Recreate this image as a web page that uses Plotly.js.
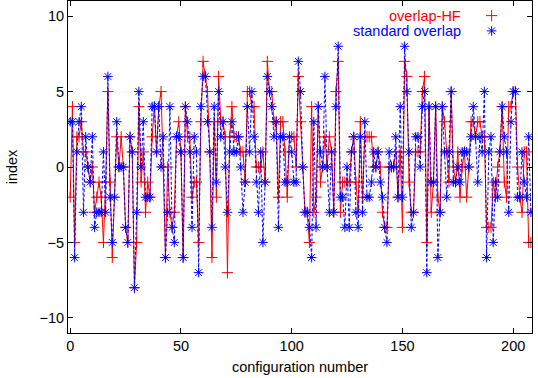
<!DOCTYPE html>
<html>
<head>
<meta charset="utf-8">
<script src="https://cdn.plot.ly/plotly-3.0.1.min.js"></script>
<style>
  html, body { margin: 0; padding: 0; background: #fff; }
  #plot { width: 538px; height: 378px; }
</style>
</head>
<body>
<div id="plot"></div>
<script>
// index per configuration
var hfIndex = [
  -2, 4, -5, 2, 2, 3, 1, 1, 0, -1,
  0, -3, -2, -1, -2, -5, -1, 5, -1, -6,
  -2, 2, 0, 2, 0, -4, -5, 2, 1, -8,
  -5, 4, -1, 1, -3, -1, -2, 2, 4, 1,
  4, 5, 0, -6, 0, -3, -4, -3, 2, 3,
  1, -6, 4, 2, 2, -2, -1, -1, -5, 3,
  7, 6, 5, 1, -6, 3, -2, 6, 3, 3,
  2, -7, 2, 4, 2, 2, 2, 1, 1, -1,
  5, 5, 4, 4, 0, 0, 0, 1, -1, 7,
  5, 5, 3, 3, -2, 3, 3, 1, -2, 2,
  2, 2, 0, 6, 3, 0, -3, -3, -5, 4,
  -3, -2, 4, -1, 0, 2, 0, 2, 1, -3,
  5, 7, -3, -1, -1, -1, -1, 1, 2, -1,
  -3, 3, -2, 2, 2, 2, 2, 0, 0, 1,
  0, -3, -4, -4, 0, 0, 0, 1, -2, 1,
  -4, 7, 6, -1, -3, -3, 1, 1, 1, 5,
  6, -5, 4, -3, -1, 4, -2, -3, 4, 3,
  1, -1, 5, 0, -1, 1, -2, 0, 1, -2,
  0, 3, 3, 2, 3, 3, 2, 2, -4, -4,
  -4, -1, -2, 0, 1, 4, -1, -2, 4, 4,
  5, 5, 0, -2, -3, 1, 1, -5, -5
];

var stdIndex = [
  3, 3, -6, 1, 3, 4, -3, 2, 0, -1,
  2, -4, -3, -3, -3, 1, -3, 6, -2, -5,
  -2, 3, 0, 0, 0, -4, -5, 2, 1, -8,
  -3, 5, 0, 3, -2, -2, -2, 4, 4, 1,
  4, 0, 2, -6, -3, 4, -4, -5, 2, 2,
  1, -6, 4, 3, 1, -4, 2, 1, -7, 4,
  6, 6, 3, 1, -4, 4, -1, 5, 2, 3,
  0, -3, 1, 3, 1, 1, 2, 0, -3, -1,
  4, 1, 5, 2, -1, -3, 1, -5, -1, 6,
  5, 4, 2, 3, -4, 2, 2, -1, -1, 2,
  1, -1, -1, 7, 5, 0, -3, -3, -4, -6,
  3, -4, 4, 1, 0, 6, 0, -3, 1, -3,
  4, 8, -2, -2, -4, 0, -4, 1, 2, -3,
  -4, 2, -3, 3, -2, -2, -1, 1, 0, 1,
  -1, -2, -4, -5, 1, 0, 0, 2, -2, 4,
  -2, 8, 5, 1, -4, -3, 2, 2, 0, 4,
  5, -7, 4, -1, -1, 4, -6, -3, 4, 1,
  -2, 1, 5, -1, -1, 0, -1, 1, 1, 1,
  0, 2, 4, 2, -1, 2, 1, 5, -6, 1,
  2, -5, -1, -2, 1, 4, 2, 1, -3, 3,
  5, 5, -2, -2, 1, -1, -2, 2, -3
];

var configNo = hfIndex.map(function (v, i) { return i; });
var xTicks = [0, 50, 100, 150, 200];
var yTicks = [-10, -5, 0, 5, 10];
var seriesNames = ["overlap-HF", "standard overlap"];

var RED = "#ff0000";
var BLUE = "#0000ff";
var FONT = "Liberation Sans, Arial, sans-serif";
var FS = 14.5;

var traces = [
  {
    x: configNo, y: hfIndex, type: "scatter", mode: "lines+markers",
    line: {color: RED, width: 1},
    marker: {symbol: "cross-thin-open", size: 8, color: RED, line: {color: RED, width: 1}},
    showlegend: false, hoverinfo: "skip"
  },
  {
    x: configNo, y: stdIndex, type: "scatter", mode: "lines+markers",
    line: {color: BLUE, width: 1, dash: "3px,2px"},
    marker: {symbol: "asterisk-open", size: 8, color: BLUE, line: {color: BLUE, width: 1}},
    showlegend: false, hoverinfo: "skip"
  },
  // key samples (gnuplot style: text then symbol)
  {
    x: [0.913], y: [0.956], xaxis: "x2", yaxis: "y2", type: "scatter", mode: "markers",
    marker: {symbol: "cross-thin-open", size: 8, color: RED, line: {color: RED, width: 1}},
    showlegend: false, hoverinfo: "skip"
  },
  {
    x: [0.913], y: [0.91], xaxis: "x2", yaxis: "y2", type: "scatter", mode: "markers",
    marker: {symbol: "asterisk-open", size: 8, color: BLUE, line: {color: BLUE, width: 1}},
    showlegend: false, hoverinfo: "skip"
  }
];

var axisCommon = {
  showline: true, linecolor: "#000", linewidth: 1, mirror: "allticks",
  ticks: "inside", ticklen: 5, tickcolor: "#000", tickwidth: 1,
  showgrid: false, zeroline: false,
  tickfont: {family: FONT, size: FS, color: "#000"}
};

var layout = {
  width: 538, height: 378,
  margin: {l: 68, r: 6, t: 1, b: 45},
  paper_bgcolor: "#fff", plot_bgcolor: "#fff",
  font: {family: FONT, size: FS, color: "#000"},
  showlegend: false,
  xaxis: Object.assign({}, axisCommon, {
    range: [-1, 208.5], tickvals: xTicks,
    title: {text: "configuration number", font: {family: FONT, size: FS}, standoff: 8}
  }),
  yaxis: Object.assign({}, axisCommon, {
    range: [-11, 11], tickvals: yTicks,
    title: {text: "index", font: {family: FONT, size: FS}, standoff: 18}
  }),
  xaxis2: {overlaying: "x", range: [0, 1], visible: false, anchor: "y2"},
  yaxis2: {overlaying: "y", range: [0, 1], visible: false, anchor: "x2"},
  annotations: [
    {xref: "paper", yref: "paper", x: 0.851, y: 0.956, xanchor: "right", yanchor: "middle",
     text: seriesNames[0], showarrow: false, font: {family: FONT, size: FS, color: RED}},
    {xref: "paper", yref: "paper", x: 0.851, y: 0.91, xanchor: "right", yanchor: "middle",
     text: seriesNames[1], showarrow: false, font: {family: FONT, size: FS, color: BLUE}}
  ]
};

Plotly.newPlot("plot", traces, layout, {displayModeBar: false, staticPlot: true});
</script>
</body>
</html>
